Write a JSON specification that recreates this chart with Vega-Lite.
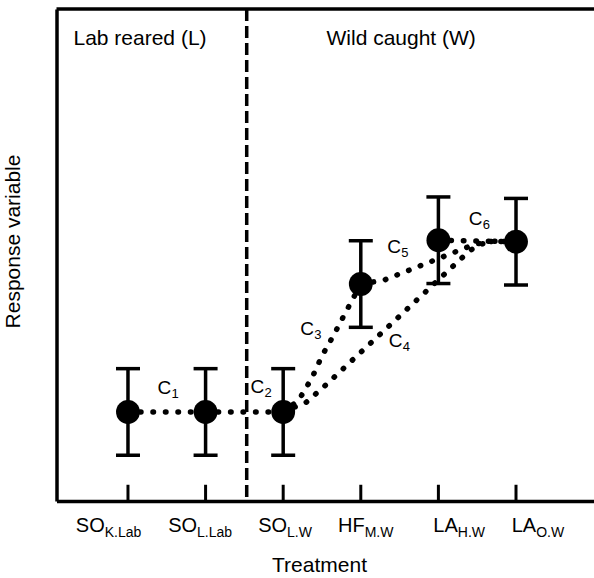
{
  "$schema": "https://vega.github.io/schema/vega-lite/v6.json",
  "width": 537.5,
  "height": 492,
  "autosize": {"type": "none"},
  "padding": {"left": 56.5, "top": 9, "right": 0, "bottom": 77},
  "background": "white",
  "config": {
    "font": "Liberation Sans",
    "view": {"stroke": null},
    "axis": {"domainColor": "black", "domainWidth": 3.5, "ticks": false, "labels": false, "grid": false, "titleFont": "Liberation Sans", "titleFontSize": 21, "titleFontWeight": "normal", "titleColor": "black"}
  },
  "datasets": {
    "points": [
      {"x": 1, "y": 1.81, "lo": 0.93, "hi": 2.69, "main": "SO", "sub": "K.Lab", "lx": 0.70},
      {"x": 2, "y": 1.81, "lo": 0.93, "hi": 2.69, "main": "SO", "sub": "L.Lab", "lx": 1.89},
      {"x": 3, "y": 1.81, "lo": 0.93, "hi": 2.69, "main": "SO", "sub": "L.W", "lx": 3.05},
      {"x": 4, "y": 4.41, "lo": 3.53, "hi": 5.29, "main": "HF", "sub": "M.W", "lx": 4.05},
      {"x": 5, "y": 5.30, "lo": 4.42, "hi": 6.18, "main": "LA", "sub": "H.W", "lx": 5.25},
      {"x": 6, "y": 5.27, "lo": 4.39, "hi": 6.15, "main": "LA", "sub": "O.W", "lx": 6.26}
    ],
    "curves": [
      {"c": "C1", "o": 1, "x": 1, "y": 1.81},
      {"c": "C1", "o": 2, "x": 2, "y": 1.81},
      {"c": "C2", "o": 1, "x": 2, "y": 1.81},
      {"c": "C2", "o": 2, "x": 3, "y": 1.81},
      {"c": "C3", "o": 1, "x": 3, "y": 1.81},
      {"c": "C3", "o": 2, "x": 3.2, "y": 2.05},
      {"c": "C3", "o": 3, "x": 3.37, "y": 2.5},
      {"c": "C3", "o": 4, "x": 3.5, "y": 2.95},
      {"c": "C3", "o": 5, "x": 3.65, "y": 3.37},
      {"c": "C3", "o": 6, "x": 3.8, "y": 3.82},
      {"c": "C3", "o": 7, "x": 4, "y": 4.41},
      {"c": "C4", "o": 1, "x": 3, "y": 1.81},
      {"c": "C4", "o": 2, "x": 3.3, "y": 2.01},
      {"c": "C4", "o": 3, "x": 3.55, "y": 2.36},
      {"c": "C4", "o": 4, "x": 5.37, "y": 5.04},
      {"c": "C4", "o": 5, "x": 5.5, "y": 5.2},
      {"c": "C4", "o": 6, "x": 5.7, "y": 5.28},
      {"c": "C4", "o": 7, "x": 6, "y": 5.27},
      {"c": "C5", "o": 1, "x": 4, "y": 4.41},
      {"c": "C5", "o": 2, "x": 4.3, "y": 4.49},
      {"c": "C5", "o": 3, "x": 5.47, "y": 5.22},
      {"c": "C5", "o": 4, "x": 5.7, "y": 5.28},
      {"c": "C5", "o": 5, "x": 6, "y": 5.27},
      {"c": "C6", "o": 1, "x": 5, "y": 5.3},
      {"c": "C6", "o": 2, "x": 6, "y": 5.27}
    ],
    "clabels": [
      {"x": 1.38, "y": 2.17, "c": "C", "s": "1"},
      {"x": 2.58, "y": 2.20, "c": "C", "s": "2"},
      {"x": 3.22, "y": 3.37, "c": "C", "s": "3"},
      {"x": 4.36, "y": 3.13, "c": "C", "s": "4"},
      {"x": 4.34, "y": 5.04, "c": "C", "s": "5"},
      {"x": 5.39, "y": 5.61, "c": "C", "s": "6"}
    ],
    "regions": [
      {"x": 1.155, "y": 9.27, "t": "Lab reared (L)"},
      {"x": 4.52, "y": 9.27, "t": "Wild caught (W)"}
    ]
  },
  "layer": [
    {
      "data": {"name": "curves"},
      "mark": {"type": "line", "color": "black", "strokeWidth": 5.5, "strokeDash": [0.5, 12], "strokeCap": "round"},
      "encoding": {
        "x": {"field": "x", "type": "quantitative", "scale": {"domain": [0.079, 7.005], "nice": false, "zero": false}, "axis": {"title": "Treatment", "titlePadding": 53, "titleX": 262.5}},
        "y": {"field": "y", "type": "quantitative", "scale": {"domain": [0, 10], "nice": false, "zero": false}, "axis": {"title": "Response variable", "titlePadding": 33, "titleY": 232}},
        "detail": {"field": "c"},
        "order": {"field": "o", "type": "quantitative"}
      }
    },
    {
      "data": {"values": [{}]},
      "mark": {"type": "rule", "color": "black", "strokeWidth": 3.5, "strokeDash": [12, 5]},
      "encoding": {"x": {"datum": 2.53}}
    },
    {
      "data": {"values": [{}]},
      "mark": {"type": "rule", "color": "black", "strokeWidth": 3.5},
      "encoding": {"y": {"datum": 10}}
    },
    {
      "data": {"name": "points"},
      "mark": {"type": "rule", "color": "black", "strokeWidth": 3},
      "encoding": {
        "x": {"field": "x", "type": "quantitative"},
        "y": {"datum": 0},
        "y2": {"datum": 0.33}
      }
    },
    {
      "data": {"name": "points"},
      "mark": {"type": "rule", "color": "black", "strokeWidth": 3.5},
      "encoding": {
        "x": {"field": "x", "type": "quantitative"},
        "y": {"field": "lo", "type": "quantitative"},
        "y2": {"field": "hi"}
      }
    },
    {
      "data": {"name": "points"},
      "mark": {"type": "tick", "color": "black", "orient": "horizontal", "size": 24, "thickness": 3.5, "opacity": 1},
      "encoding": {
        "x": {"field": "x", "type": "quantitative"},
        "y": {"field": "hi", "type": "quantitative"}
      }
    },
    {
      "data": {"name": "points"},
      "mark": {"type": "tick", "color": "black", "orient": "horizontal", "size": 24, "thickness": 3.5, "opacity": 1},
      "encoding": {
        "x": {"field": "x", "type": "quantitative"},
        "y": {"field": "lo", "type": "quantitative"}
      }
    },
    {
      "data": {"name": "points"},
      "mark": {"type": "point", "shape": "circle", "filled": true, "color": "black", "opacity": 1, "size": 570},
      "encoding": {
        "x": {"field": "x", "type": "quantitative"},
        "y": {"field": "y", "type": "quantitative"}
      }
    },
    {
      "data": {"name": "points"},
      "mark": {"type": "text", "color": "black", "fontSize": 20, "align": "right", "baseline": "alphabetic"},
      "encoding": {
        "x": {"field": "lx", "type": "quantitative"},
        "y": {"datum": -0.63},
        "text": {"field": "main"}
      }
    },
    {
      "data": {"name": "points"},
      "mark": {"type": "text", "color": "black", "fontSize": 14, "align": "left", "baseline": "alphabetic", "dy": 5},
      "encoding": {
        "x": {"field": "lx", "type": "quantitative"},
        "y": {"datum": -0.63},
        "text": {"field": "sub"}
      }
    },
    {
      "data": {"name": "clabels"},
      "mark": {"type": "text", "color": "black", "fontSize": 19, "align": "left", "baseline": "alphabetic"},
      "encoding": {
        "x": {"field": "x", "type": "quantitative"},
        "y": {"field": "y", "type": "quantitative"},
        "text": {"field": "c"}
      }
    },
    {
      "data": {"name": "clabels"},
      "mark": {"type": "text", "color": "black", "fontSize": 13, "align": "left", "baseline": "alphabetic", "dx": 14, "dy": 4},
      "encoding": {
        "x": {"field": "x", "type": "quantitative"},
        "y": {"field": "y", "type": "quantitative"},
        "text": {"field": "s"}
      }
    },
    {
      "data": {"name": "regions"},
      "mark": {"type": "text", "color": "black", "fontSize": 21, "align": "center", "baseline": "alphabetic"},
      "encoding": {
        "x": {"field": "x", "type": "quantitative"},
        "y": {"field": "y", "type": "quantitative"},
        "text": {"field": "t"}
      }
    }
  ]
}
